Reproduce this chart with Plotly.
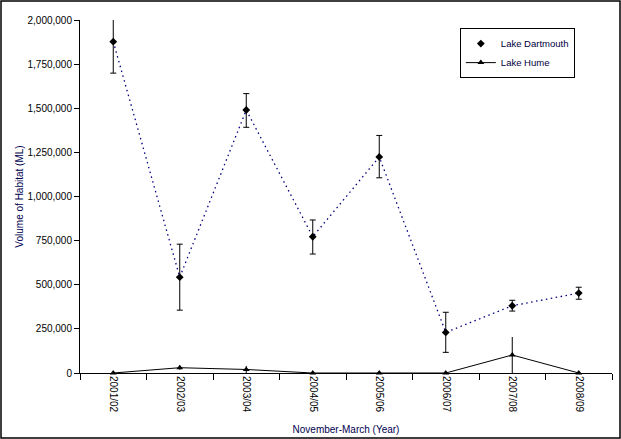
import plotly.graph_objects as go

years = ["2001/02", "2002/03", "2003/04", "2004/05", "2005/06", "2006/07", "2007/08", "2008/09"]
dartmouth = [1877000, 543000, 1490000, 772000, 1224000, 230000, 381000, 453000]
dartmouth_err_up = [140000, 187000, 93000, 95000, 122000, 114000, 31000, 33000]
dartmouth_err_down = [178000, 187000, 98000, 98000, 118000, 113000, 30000, 35000]
hume = [0, 30000, 20000, 0, 0, 0, 102000, 0]
hume_err = [0, 12000, 20000, 0, 0, 0, 102000, 0]

yticks = [0, 250000, 500000, 750000, 1000000, 1250000, 1500000, 1750000, 2000000]

font = "Arial, Liberation Sans, sans-serif"

fig = go.Figure()
fig.add_trace(go.Scatter(
    x=years, y=dartmouth, mode="lines+markers", name="Lake Dartmouth",
    showlegend=False, cliponaxis=False,
    line=dict(color="#000080", dash="1.5px,3.5px", width=1.3),
    marker=dict(symbol="diamond", size=6, color="black"),
    error_y=dict(type="data", array=dartmouth_err_up, arrayminus=dartmouth_err_down,
                 symmetric=False, color="black", thickness=1, width=3),
))
fig.add_trace(go.Scatter(
    x=[None], y=[None], mode="markers", name="Lake Dartmouth",
    marker=dict(symbol="diamond", size=6, color="black"),
))
fig.add_trace(go.Scatter(
    x=years, y=hume, mode="lines+markers", name="Lake Hume", cliponaxis=False,
    line=dict(color="black", width=1),
    marker=dict(symbol="triangle-up", size=6, color="black"),
    error_y=dict(type="data", array=hume_err, color="black", thickness=1, width=0),
))

W, H = 621, 439
L, R, T, B = 80, 9, 20, 66
pw, ph = W - L - R, H - T - B

fig.add_shape(type="rect", xref="paper", yref="paper",
              x0=(1 - L) / pw, x1=(W - 1 - L) / pw,
              y0=-(B - 1) / ph, y1=(ph + T - 1) / ph,
              line=dict(color="black", width=1.5), fillcolor="rgba(0,0,0,0)")

fig.update_layout(
    width=W, height=H,
    margin=dict(l=L, r=R, t=T, b=B),
    paper_bgcolor="white", plot_bgcolor="white",
    font=dict(family=font, size=10, color="black"),
    showlegend=True,
    legend=dict(x=0.714, y=0.977, xanchor="left", yanchor="top",
                bordercolor="black", borderwidth=1, bgcolor="white",
                font=dict(size=9.5, color="#000040"), itemwidth=30,
                tracegroupgap=0),
    xaxis=dict(
        type="category", range=[-0.5, 7.5], automargin=False,
        showline=True, linecolor="black", linewidth=1,
        ticks="outside", tickson="boundaries", ticklen=6, tickcolor="black",
        tickangle=90, showgrid=False, zeroline=False,
        title=dict(text="November-March (Year)", font=dict(size=10, color="#000050"), standoff=14),
    ),
    yaxis=dict(
        range=[0, 2000000], tickvals=yticks, tickformat=",d", automargin=False,
        showline=True, linecolor="black", linewidth=1,
        ticks="outside", ticklen=5, tickcolor="black",
        showgrid=False, zeroline=False,
        title=dict(text="Volume of Habitat (ML)", font=dict(size=10, color="#000050"), standoff=2),
    ),
)

fig.write_html("out.html", config={"displayModeBar": False},
               post_script="document.body.style.margin='0';document.body.style.padding='0';")
